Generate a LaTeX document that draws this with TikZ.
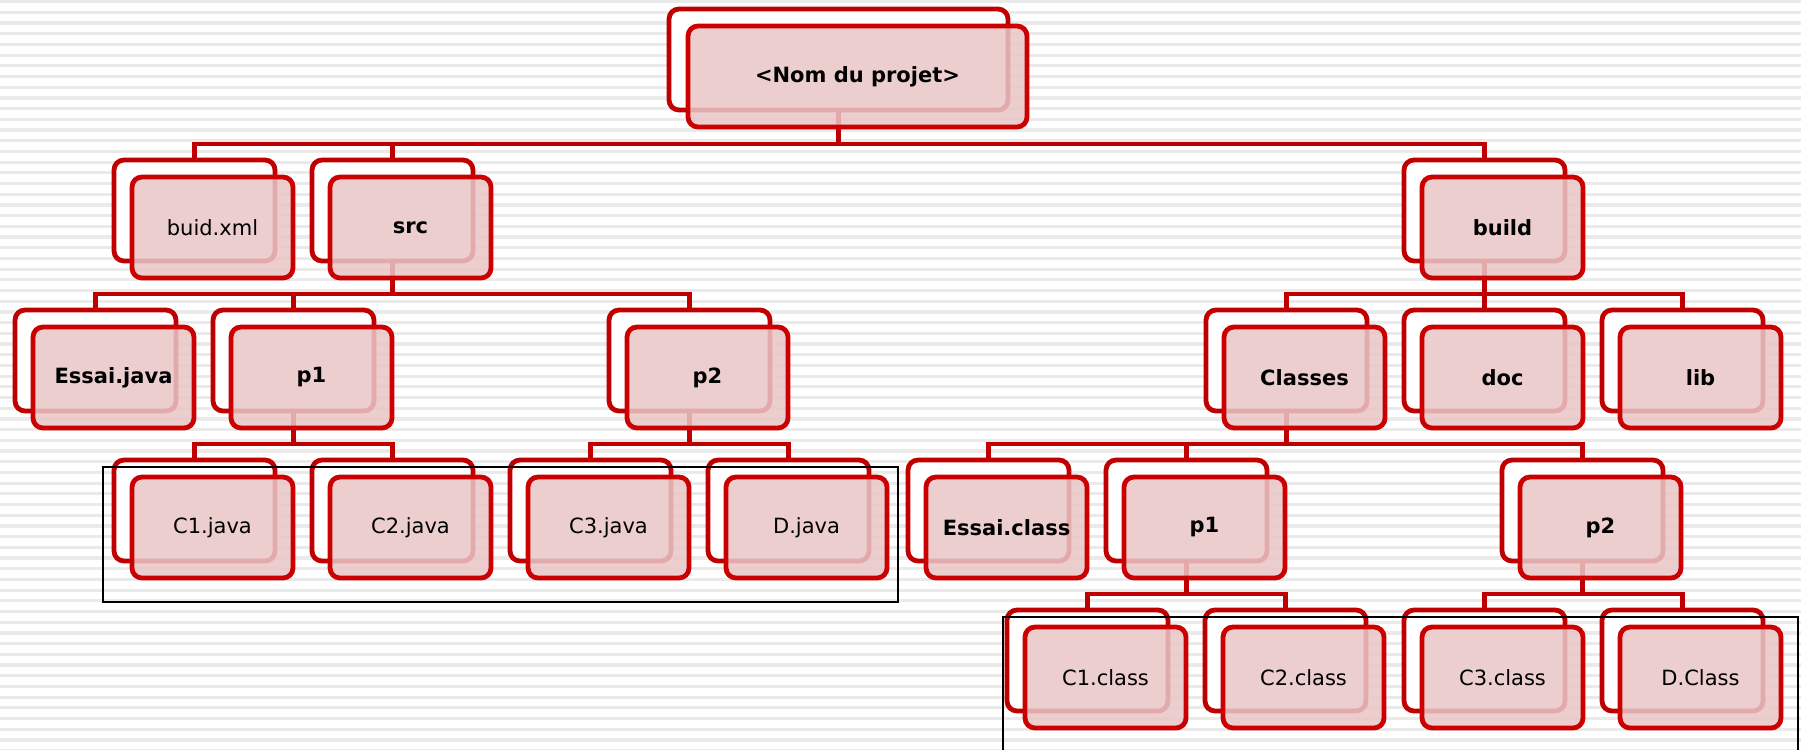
\documentclass[tikz,border=0pt]{standalone}
\usepackage{fontspec}
\setmainfont{DejaVu Sans}
\usetikzlibrary{calc}
\definecolor{darkred}{RGB}{192,0,0}
\definecolor{boxred}{RGB}{204,0,0}
\definecolor{pinkfill}{RGB}{233,198,200}
\definecolor{stripegray}{RGB}{234,234,234}
\pgfdeclarelayer{stripes}
\pgfdeclarelayer{bg}
\pgfdeclarelayer{fg}
\pgfsetlayers{stripes,bg,main,fg}
\tikzset{
  backbox/.style={draw=darkred, fill=white, line width=2.4pt, rounded corners=5pt,
    minimum width=80.5pt, minimum height=50.5pt, inner sep=0pt, outer sep=0pt},
  frontbox/.style={draw=boxred, fill=pinkfill, fill opacity=0.86, text opacity=1,
    line width=2.4pt, rounded corners=5pt,
    minimum width=80.5pt, minimum height=50.5pt, inner sep=0pt, outer sep=0pt,
    font=\fontsize{10.5pt}{12pt}\selectfont},
  conn/.style={draw=darkred, line width=2.4pt, line join=miter},
  frame/.style={draw=black, line width=0.6pt},
  boldlbl/.style={font=\fontsize{10.5pt}{12pt}\selectfont\bfseries},
}
\newcommand{\fnode}[4]{% name, cx, cy, label
  \node[backbox] (back-#1) at (#2,#3) {};
  \node[frontbox] (#1) at ([xshift=9pt,yshift=-8.5pt]back-#1.center) {#4};
}
\newcommand{\bnode}[4]{% bold label
  \node[backbox] (back-#1) at (#2,#3) {};
  \node[frontbox, boldlbl] (#1) at ([xshift=9pt,yshift=-8.5pt]back-#1.center) {#4};
}
\begin{document}
\begin{tikzpicture}[x=0.5pt,y=-0.5pt]
\useasboundingbox (0,0) rectangle (1801,750);
\begin{pgfonlayer}{stripes}
\fill[white] (0,0) rectangle (1801,750);
\foreach \i in {0,...,70} {
  \fill[stripegray] (0,{\i*10.7}) rectangle (1801,{\i*10.7+3.2});
}
\end{pgfonlayer}

% root
\node[backbox, minimum width=169.5pt] (back-root) at (838.5,59.5) {};
\node[frontbox, boldlbl, minimum width=169.5pt] (root) at ([xshift=9.5pt,yshift=-8.5pt]back-root.center) {<Nom du projet>};

% level 2
\fnode{buid}{194.5}{210.5}{buid.xml}
\bnode{src}{392.5}{210.5}{src}
\bnode{build}{1484.5}{210.5}{build}

% level 3
\bnode{essaij}{95.5}{360.5}{Essai.java}
\bnode{pa}{293.5}{360.5}{p1}
\bnode{pb}{689.5}{360.5}{p2}
\bnode{classes}{1286.5}{360.5}{Classes}
\bnode{doc}{1484.5}{360.5}{doc}
\bnode{lib}{1682.5}{360.5}{lib}

% level 4
\fnode{c1j}{194.5}{510.5}{C1.java}
\fnode{c2j}{392.5}{510.5}{C2.java}
\fnode{c3j}{590.5}{510.5}{C3.java}
\fnode{dj}{788.5}{510.5}{D.java}
\bnode{essaic}{988.5}{510.5}{Essai.class}
\bnode{pc}{1186.5}{510.5}{p1}
\bnode{pd}{1582.5}{510.5}{p2}

% level 5
\fnode{c1c}{1087.5}{660.5}{C1.class}
\fnode{c2c}{1285.5}{660.5}{C2.class}
\fnode{c3c}{1484.5}{660.5}{C3.class}
\fnode{dc}{1682.5}{660.5}{D.Class}

\begin{pgfonlayer}{bg}
\foreach \p/\c in {root/buid, root/src, root/build, src/essaij, src/pa, src/pb,
  build/classes, build/doc, build/lib, pa/c1j, pa/c2j, pb/c3j, pb/dj,
  classes/essaic, classes/pc, classes/pd, pc/c1c, pc/c2c, pd/c3c, pd/dc}
  \draw[conn] (back-\p.south) |- ([yshift=8pt]back-\c.north) -- (back-\c.north);
\end{pgfonlayer}

\begin{pgfonlayer}{fg}
\coordinate (f1a) at (103,467);
\coordinate (f1b) at (898,602);
\draw[frame] (f1a) rectangle (f1b);
\coordinate (f2a) at (1003,760);
\coordinate (f2b) at (1003,617);
\coordinate (f2c) at (1798,617);
\coordinate (f2d) at (1798,760);
\draw[frame] (f2a) -- (f2b) -- (f2c) -- (f2d);
\end{pgfonlayer}
\end{tikzpicture}
\end{document}
